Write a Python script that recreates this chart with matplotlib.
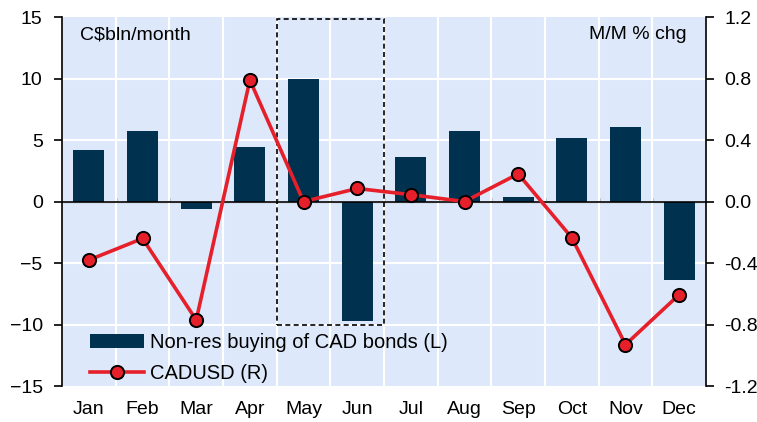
import matplotlib
matplotlib.use('Agg')
import matplotlib.pyplot as plt
from matplotlib.patches import Rectangle
from matplotlib.ticker import FixedLocator, NullFormatter

plt.rcParams['font.family'] = ['Liberation Sans', 'DejaVu Sans']
plt.rcParams['font.size'] = 14

months = ['Jan', 'Feb', 'Mar', 'Apr', 'May', 'Jun', 'Jul', 'Aug', 'Sep', 'Oct', 'Nov', 'Dec']
bond_buying = [4.2, 5.7, -0.6, 4.4, 10.0, -9.7, 3.6, 5.7, 0.4, 5.2, 6.1, -6.4]
cadusd = [-0.38, -0.24, -0.77, 0.79, 0.0, 0.085, 0.045, 0.0, 0.18, -0.235, -0.93, -0.605]
left_ticks = [-15, -10, -5, 0, 5, 10, 15]
right_ticks = [-1.2, -0.8, -0.4, 0.0, 0.4, 0.8, 1.2]

bg = '#dde9fb'
navy = '#00314f'
red = '#e5202a'
fs = 14

fig = plt.figure(figsize=(7.57, 4.22), dpi=100)
ax = fig.add_axes([0.082, 0.085, 0.8506, 0.8747])
ax.set_facecolor(bg)

x = list(range(len(months)))
ax.bar(x, bond_buying, width=0.58, color=navy, zorder=2,
       label='Non-res buying of CAD bonds (L)')
ax.axhline(0, color='black', lw=1.2, zorder=3)

ax.set_xlim(-0.5, len(months) - 0.5)
ax.set_ylim(-15, 15)
ax.set_yticks(left_ticks)
ax.set_xticks(x)
ax.set_xticklabels(months)
ax.tick_params(axis='x', length=0, pad=11, labelsize=fs)
ax.tick_params(axis='y', direction='out', length=6, width=1.2, labelsize=fs, pad=8)

# grid: horizontal at major ticks, vertical at month boundaries
bounds = [i + 0.5 for i in range(len(months) - 1)]
for yv in left_ticks[1:-1]:
    ax.axhline(yv, color='white', lw=1.5, zorder=1)
for b in bounds:
    ax.axvline(b, color='white', lw=1.5, zorder=1)

for s in ['top', 'bottom', 'right']:
    ax.spines[s].set_visible(False)
ax.spines['left'].set_linewidth(1.2)

# small ticks on zero line
sec = ax.secondary_xaxis(0.5)
sec.spines['bottom'].set_visible(False)
sec.xaxis.set_major_locator(FixedLocator(bounds))
sec.xaxis.set_major_formatter(NullFormatter())
sec.tick_params(axis='x', direction='out', length=3, width=1)

# highlight box May-Jun
ax.add_patch(Rectangle((3.5, -10), 2.0, 24.85, fill=False, ls=(0, (3, 2)),
                       lw=1.2, edgecolor='black', zorder=4))

ax2 = ax.twinx()
ax2.plot(x, cadusd, color=red, lw=2.6, marker='o', markersize=9.5,
         markerfacecolor=red, markeredgecolor='black', markeredgewidth=1.4,
         label='CADUSD (R)', zorder=5)
ax2.set_ylim(-1.2, 1.2)
ax2.set_yticks(right_ticks)
ax2.set_yticklabels(['%.1f' % v for v in right_ticks])
ax2.tick_params(axis='y', direction='out', length=6, width=1.2, labelsize=fs, pad=7)
for s in ['top', 'bottom', 'left']:
    ax2.spines[s].set_visible(False)
ax2.spines['right'].set_linewidth(1.2)

ax.text(0.028, 0.975, 'C$bln/month', transform=ax.transAxes, ha='left', va='top', fontsize=fs)
ax.text(0.97, 0.975, 'M/M % chg', transform=ax.transAxes, ha='right', va='top', fontsize=fs)

h1, l1 = ax.get_legend_handles_labels()
h2, l2 = ax2.get_legend_handles_labels()
ax2.legend(h1 + h2, l1 + l2, loc='lower left', bbox_to_anchor=(0.031, -0.013),
           frameon=False, handlelength=2.7, handletextpad=0.28, labelspacing=0.6,
           borderaxespad=0, fontsize=14.5)

fig.savefig('out.png', dpi=100)
